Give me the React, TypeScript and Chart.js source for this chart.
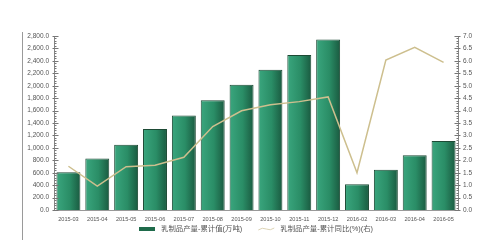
import { useEffect, useRef } from "react";
import { Chart, registerables } from "chart.js";

Chart.register(...registerables);

const categories = [
  "2015-03", "2015-04", "2015-05", "2015-06", "2015-07", "2015-08", "2015-09",
  "2015-10", "2015-11", "2015-12", "2016-02", "2016-03", "2016-04", "2016-05",
];
const cumulativeOutput = [608, 827, 1051, 1302, 1520, 1766, 2016, 2256, 2496, 2742, 416, 646, 880, 1110];
const yoyGrowth = [1.76, 0.96, 1.74, 1.8, 2.12, 3.36, 3.99, 4.23, 4.36, 4.55, 1.5, 6.03, 6.54, 5.94];
const seriesLabels = ["乳制品产量-累计值(万吨)", "乳制品产量-累计同比(%)(右)"];
const leftMax = 2800;
const leftStep = 200;
const leftMinor = 40;
const rightMax = 7;
const rightStep = 0.5;
const rightMinor = 0.1;

const FONT = "'Liberation Sans', Arial, 'Noto Sans CJK SC', sans-serif";
const LEGEND_FONT = "'Liberation Sans', 'Noto Sans CJK SC', sans-serif";
const BAR_PCT = 0.83;
const BAR_COLOR = "#1f6b4b";
const LINE_COLOR = "#cdbf8e";

const decorPlugin = {
  id: "decor",
  afterDraw(chart: any) {
    const { ctx, chartArea, scales } = chart;
    ctx.save();
    // frame line on the left
    ctx.strokeStyle = "#9a9a9a";
    ctx.lineWidth = 1;
    ctx.beginPath();
    ctx.moveTo(22.5, chartArea.top - 4);
    ctx.lineTo(22.5, chart.height - 5);
    ctx.stroke();
    // minor/major ticks on the y axes
    ctx.strokeStyle = "#777";
    const y = scales.y;
    const lx = Math.round(y.right) + 0.5;
    for (let v = 0; v <= leftMax + 1e-6; v += leftMinor) {
      const p = Math.round(y.getPixelForValue(v)) + 0.5;
      const major = Math.abs(v / leftStep - Math.round(v / leftStep)) < 1e-6;
      ctx.beginPath();
      ctx.moveTo(major ? lx - 2 : lx, p);
      ctx.lineTo(lx + (major ? 4 : 2), p);
      ctx.stroke();
    }
    const y1 = scales.y1;
    const rx = Math.round(y1.left) + 0.5;
    for (let i = 0; i <= Math.round(rightMax / rightMinor); i++) {
      const v = i * rightMinor;
      const p = Math.round(y1.getPixelForValue(v)) + 0.5;
      const major = i % Math.round(rightStep / rightMinor) === 0;
      ctx.beginPath();
      ctx.moveTo(rx - (major ? 4 : 2), p);
      ctx.lineTo(major ? rx + 2 : rx, p);
      ctx.stroke();
    }

    // legend
    ctx.font = `7.4px ${LEGEND_FONT}`;
    ctx.textBaseline = "middle";
    ctx.fillStyle = "#555";
    const boxW = 16;
    const gapBoxText = 6;
    const gapItems = 16;
    const w0 = ctx.measureText(seriesLabels[0]).width;
    const w1 = ctx.measureText(seriesLabels[1]).width;
    const total = boxW + gapBoxText + w0 + gapItems + boxW + gapBoxText + w1;
    const cx = (chartArea.left + chartArea.right) / 2;
    let x = Math.round(cx - total / 2);
    const ly = chart.height - 16;
    ctx.fillStyle = BAR_COLOR;
    ctx.fillRect(x, ly - 2, boxW, 4);
    x += boxW + gapBoxText;
    ctx.fillStyle = "#555";
    ctx.fillText(seriesLabels[0], x, ly);
    x += w0 + gapItems;
    ctx.strokeStyle = "#dcd3b4";
    ctx.lineWidth = 1;
    ctx.beginPath();
    ctx.moveTo(x, ly + 1);
    ctx.quadraticCurveTo(x + 4, ly - 2, x + 8, ly);
    ctx.quadraticCurveTo(x + 12, ly + 2, x + boxW, ly - 1);
    ctx.stroke();
    x += boxW + gapBoxText;
    ctx.fillStyle = "#555";
    ctx.fillText(seriesLabels[1], x, ly);
    ctx.restore();
  },
};

export default function App() {
  const ref = useRef<HTMLCanvasElement | null>(null);

  useEffect(() => {
    if (!ref.current) return;
    const chart = new Chart(ref.current, {
      type: "bar",
      data: {
        labels: categories,
        datasets: [
          {
            type: "bar",
            label: seriesLabels[0],
            data: cumulativeOutput,
            yAxisID: "y",
            order: 1,
            barPercentage: BAR_PCT,
            categoryPercentage: 1,
            borderColor: "#1d4a35",
            borderWidth: 1,
            borderSkipped: "bottom",
            backgroundColor: (c: any) => {
              const ch = c.chart;
              const x = ch.scales && ch.scales.x;
              if (!x || c.type !== "data" || !ch.chartArea) return "#268c64";
              const center = x.getPixelForValue(c.dataIndex);
              const half = ((x.width / categories.length) * BAR_PCT) / 2;
              const g = ch.ctx.createLinearGradient(center - half, 0, center + half, 0);
              g.addColorStop(0, "#3aa67e");
              g.addColorStop(0.55, "#2a8d66");
              g.addColorStop(1, "#1a5a40");
              return g;
            },
          } as any,
          {
            type: "line",
            label: seriesLabels[1],
            data: yoyGrowth,
            yAxisID: "y1",
            order: 0,
            borderColor: LINE_COLOR,
            backgroundColor: LINE_COLOR,
            borderWidth: 1.5,
            pointRadius: 0,
            tension: 0,
          } as any,
        ],
      },
      options: {
        responsive: false,
        animation: false,
        layout: { padding: { top: 36, bottom: 0, left: 0, right: 0 } },
        plugins: {
          tooltip: { enabled: false },
          legend: { display: false },
        },
        scales: {
          x: {
            grid: { display: false, drawTicks: false },
            border: { display: true, color: "#999" },
            ticks: {
              color: "#555",
              font: { family: FONT, size: 5.6 },
              padding: 6,
              maxRotation: 0,
              autoSkip: false,
            },
            afterFit: (s: any) => {
              s.height = 35;
            },
          },
          y: {
            position: "left",
            min: 0,
            max: leftMax,
            grid: { display: false, drawTicks: false },
            border: { display: true, color: "#888" },
            ticks: {
              stepSize: leftStep,
              color: "#555",
              font: { family: FONT, size: 6.5 },
              padding: 5,
              callback: (v: any) =>
                Number(v).toLocaleString("en-US", { minimumFractionDigits: 1, maximumFractionDigits: 1 }),
            },
            afterFit: (s: any) => {
              s.width = 54;
            },
          },
          y1: {
            position: "right",
            min: 0,
            max: rightMax,
            grid: { display: false, drawTicks: false },
            border: { display: true, color: "#888" },
            ticks: {
              stepSize: rightStep,
              color: "#555",
              font: { family: FONT, size: 6.5 },
              padding: 5,
              callback: (v: any) => Number(v).toFixed(1),
            },
            afterFit: (s: any) => {
              s.width = 42;
            },
          },
        },
      },
      plugins: [decorPlugin],
    });
    return () => chart.destroy();
  }, []);

  return (
    <div style={{ position: "fixed", left: 0, top: 0, width: 500, height: 245, background: "#fff" }}>
      <canvas ref={ref} width={500} height={245} style={{ width: 500, height: 245, display: "block" }} />
    </div>
  );
}
